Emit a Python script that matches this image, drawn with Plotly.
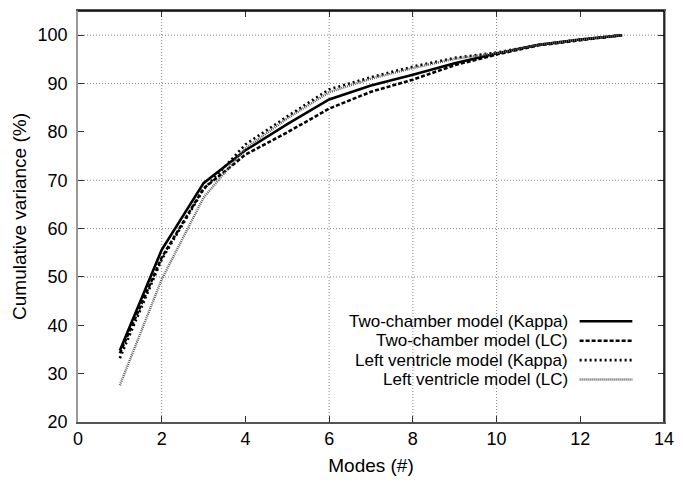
import plotly.graph_objects as go

modes = [1, 2, 3, 4, 5, 6, 7, 8, 9, 10, 11, 12, 13]
tc_kappa = [34.8, 55.6, 69.4, 76.2, 81.6, 86.7, 89.6, 91.8, 94.2, 96.2, 98.0, 99.1, 100.0]
tc_lc = [34.2, 54.0, 68.3, 75.3, 79.9, 84.8, 88.3, 90.8, 93.8, 96.0, 97.9, 99.0, 100.0]
lv_kappa = [33.2, 53.6, 68.1, 77.4, 83.2, 88.8, 91.3, 93.5, 95.3, 96.4, 98.0, 99.1, 100.0]
lv_lc = [27.6, 49.5, 66.4, 76.6, 82.8, 88.2, 91.0, 93.2, 95.1, 96.3, 98.0, 99.1, 100.0]

names = ["Two-chamber model (Kappa)", "Two-chamber model (LC)",
         "Left ventricle model (Kappa)", "Left ventricle model (LC)"]
series = [tc_kappa, tc_lc, lv_kappa, lv_lc]
styles = [dict(color="black", width=2.6, dash="solid"),
          dict(color="black", width=2.6, dash="4px,2px"),
          dict(color="black", width=2.6, dash="2px,3px"),
          dict(color="#5a5a5a", width=2.4, dash="1px,1px")]

x_ticks = [0, 2, 4, 6, 8, 10, 12, 14]
y_ticks = [20, 30, 40, 50, 60, 70, 80, 90, 100]
x_grid = [2, 6, 8, 10]
y_grid = [50, 60, 70, 90, 100]

FONT = "Liberation Sans, Arial, Helvetica, sans-serif"

fig = go.Figure()
for n, s, st in zip(names, series, styles):
    fig.add_trace(go.Scatter(x=modes, y=s, mode="lines", name=n, line=st, showlegend=False))

shapes = []
for gx in x_grid:
    shapes.append(dict(type="line", xref="x", yref="paper", x0=gx, x1=gx, y0=0, y1=1,
                       line=dict(color="#888888", width=1, dash="1px,2px"), layer="below"))
for gy in y_grid:
    shapes.append(dict(type="line", xref="paper", yref="y", x0=0, x1=1, y0=gy, y1=gy,
                       line=dict(color="#888888", width=1, dash="1px,2px"), layer="below"))
# frame top/right in black
shapes.append(dict(type="line", xref="paper", yref="paper", x0=0, x1=1, y0=1, y1=1,
                   line=dict(color="black", width=1.5)))
shapes.append(dict(type="line", xref="paper", yref="paper", x0=1, x1=1, y0=0, y1=1,
                   line=dict(color="black", width=1.5)))

# legend (text right-aligned, sample line on the right)
leg_px = [320.8, 340.3, 359.8, 379.3]
leg_y = [(422 - p) / 413 for p in leg_px]
annotations = []
for n, st, ly in zip(names, styles, leg_y):
    annotations.append(dict(xref="paper", yref="paper", x=0.838, y=ly, text=n, showarrow=False,
                            xanchor="right", yanchor="middle", borderpad=0,
                            font=dict(family=FONT, size=17, color="black")))
    shapes.append(dict(type="line", xref="paper", yref="paper", x0=0.856, x1=0.946, y0=ly, y1=ly,
                       line=st))

fig.update_layout(
    width=683, height=483,
    margin=dict(l=78, r=9, t=9, b=61),
    paper_bgcolor="white", plot_bgcolor="white",
    font=dict(family=FONT, size=18, color="black"),
    shapes=shapes, annotations=annotations,
    showlegend=False,
)
fig.update_xaxes(range=[0, 14], tickvals=x_ticks, ticktext=[str(v) for v in x_ticks],
                 showgrid=False, zeroline=False, showline=True, linecolor="#555555", linewidth=1.5,
                 mirror="ticks", ticks="inside", ticklen=6, tickcolor="#333333",
                 title=dict(text="Modes (#)", font=dict(size=19), standoff=10),
                 tickfont=dict(size=18))
fig.update_yaxes(range=[20, 105], tickvals=y_ticks, ticktext=[str(v) for v in y_ticks],
                 showgrid=False, zeroline=False, showline=True, linecolor="#999999", linewidth=1.5,
                 mirror="ticks", ticks="inside", ticklen=6, tickcolor="#333333",
                 ticklabelstandoff=5,
                 title=dict(text="Cumulative variance (%)", font=dict(size=19), standoff=6),
                 tickfont=dict(size=18))

fig.write_html("out.html")
